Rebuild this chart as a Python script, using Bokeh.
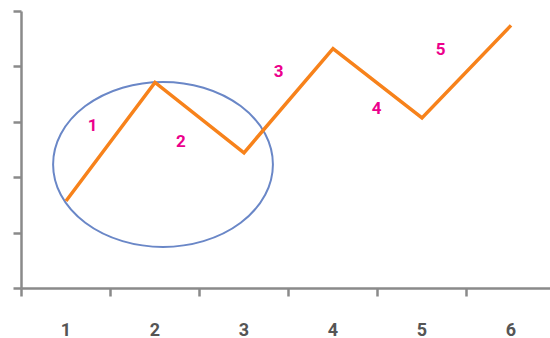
from bokeh.plotting import figure
from bokeh.models import Range1d, FixedTicker, LinearAxis, Ellipse, ColumnDataSource
from bokeh.core.properties import value
from bokeh.embed import file_html
from bokeh.resources import INLINE

# data
x_vals = [1, 2, 3, 4, 5, 6]
y_vals = [1.58, 3.72, 2.45, 4.33, 3.08, 4.75]
x_tick_labels = ["1", "2", "3", "4", "5", "6"]
y_ticks = [0, 1, 2, 3, 4, 5]
note_x = [1.30, 2.29, 3.39, 4.49, 5.21]
note_y = [2.96, 2.67, 3.93, 3.26, 4.33]
note_text = ["1", "2", "3", "4", "5"]
ell_x = [2.09]
ell_y = [2.24]
ell_w = [2.47]
ell_h = [2.98]

AX = "#8a8a8a"

p = figure(width=550, height=338, output_backend="svg", toolbar_location=None,
           x_range=Range1d(0.5, 0.5 + 529 / 89.0), y_range=Range1d(0, 5),
           x_axis_type=None, y_axis_type=None,
           min_border_left=21, min_border_right=0, min_border_top=11, min_border_bottom=49)
p.outline_line_color = None
p.grid.visible = False
p.background_fill_color = "white"
p.border_fill_color = "white"

xa = LinearAxis(ticker=FixedTicker(ticks=x_vals, minor_ticks=[0.5, 1.5, 2.5, 3.5, 4.5, 5.5]))
xa.major_label_overrides = {v: s for v, s in zip(x_vals, x_tick_labels)}
xa.axis_line_color = AX
xa.axis_line_width = 2.5
xa.major_tick_out = 0
xa.major_tick_in = 0
xa.minor_tick_out = 8
xa.minor_tick_in = 0
xa.minor_tick_line_color = AX
xa.minor_tick_line_width = 2.5
xa.major_label_standoff = 26
xa.major_label_text_font = "Roboto"
xa.major_label_text_font_style = "bold"
xa.major_label_text_font_size = "18px"
xa.major_label_text_color = "#555555"
p.add_layout(xa, "below")

ya = LinearAxis(ticker=FixedTicker(ticks=y_ticks, minor_ticks=[]))
ya.major_label_overrides = {v: "" for v in y_ticks}
ya.major_label_text_font_size = "0px"
ya.major_label_standoff = 0
ya.axis_line_color = AX
ya.axis_line_width = 2.5
ya.major_tick_out = 8
ya.major_tick_in = 0
ya.major_tick_line_color = AX
ya.major_tick_line_width = 2.5
p.add_layout(ya, "left")

src = ColumnDataSource(dict(x=ell_x, y=ell_y, w=ell_w, h=ell_h))
p.add_glyph(src, Ellipse(x="x", y="y", width="w", height="h", fill_color=None,
                         line_color="#6a87c7", line_width=2))

p.line(x_vals, y_vals, line_color="#f7821b", line_width=3.5, line_join="miter")

p.text(note_x, note_y, text=note_text, text_color="#ec008c", text_font=value("Roboto"),
       text_font_style="bold", text_font_size="17px", text_align="center", text_baseline="middle")

open("out.html", "w").write(file_html(p, INLINE))
